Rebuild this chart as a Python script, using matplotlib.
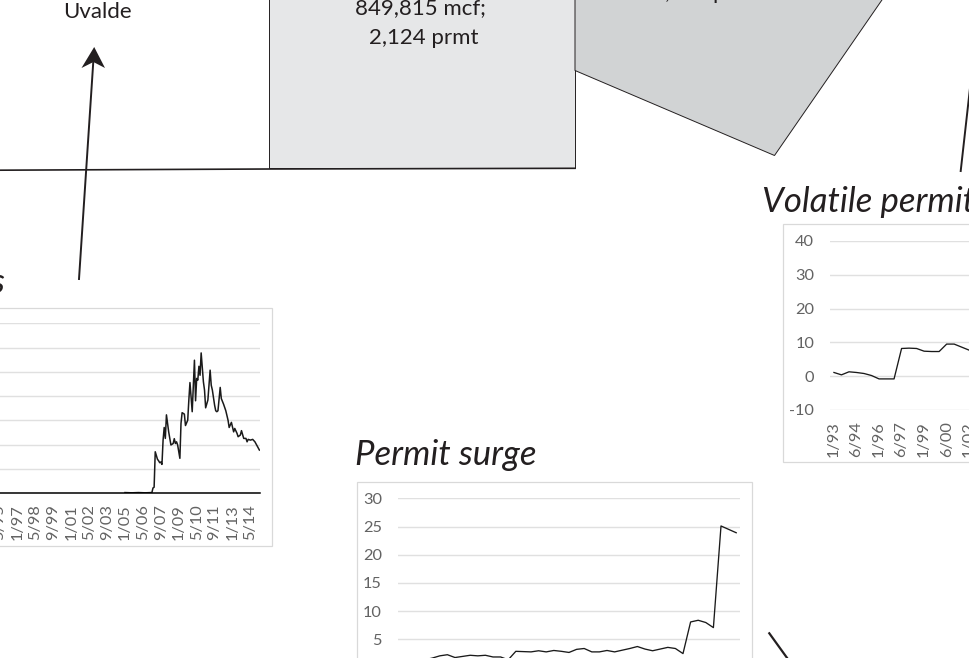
import matplotlib
matplotlib.use("Agg")
import matplotlib.pyplot as plt
from matplotlib.patches import Polygon, Rectangle

plt.rcParams["axes.unicode_minus"] = False

W, H = 969, 658

# ---- Left chart (monthly index, 0 = 1/05) ----
left_months = [0, 6, 12, 18, 24, 25, 26, 27, 29, 30, 31, 32, 33, 34, 35, 36, 37, 38, 39, 40, 41, 43, 44, 45, 46, 47,
               49, 50, 51, 53, 54, 56, 57, 58, 59, 60, 62, 63, 64, 65, 66, 67, 68, 70, 71, 72, 74, 76, 77, 78, 80, 81,
               82, 83, 85, 86, 88, 90, 92, 93, 95, 97, 98, 100, 101, 103, 104, 106, 108, 109, 110, 112, 114, 116, 118, 120]
left_values = [0.3, 0.2, 0.3, 0.2, 0.3, 2.2, 2.5, 17.1, 14.0, 13.4, 12.6, 12.9, 11.9, 21.9, 27.1, 22.6, 32.3, 28.8, 25.3,
               22.6, 19.9, 20.5, 22.5, 20.5, 21.2, 19.9, 14.4, 28.8, 33.2, 32.6, 27.9, 30.1, 38.4, 45.6, 39.7, 33.6, 54.8,
               38.1, 47.3, 46.6, 52.3, 48.6, 57.8, 45.9, 42.5, 35.2, 38.4, 50.7, 44.5, 42.5, 36.3, 34.0, 33.6, 34.0, 43.6,
               39.0, 36.7, 34.0, 30.1, 27.1, 29.2, 25.3, 26.7, 24.7, 23.3, 24.0, 25.8, 22.6, 22.6, 21.2, 22.2, 21.9, 22.2,
               21.2, 19.5, 17.8]
left_tick_months = [-112, -96, -80, -64, -48, -32, -16, 0, 16, 32, 48, 64, 80, 96, 112]
left_tick_labels = ["5/95", "1/97", "5/98", "9/99", "1/01", "5/02", "9/03", "1/05", "5/06", "9/07", "1/09", "5/10",
                    "9/11", "1/13", "5/14"]
left_grid = [0, 10, 20, 30, 40, 50, 60, 70]

# ---- Permit surge ----
surge_values = [1.0, 1.2, 1.3, 1.4, 1.7, 2.1, 2.3, 1.8, 2.0, 2.2, 2.1, 2.2, 1.9, 1.9, 1.4, 2.9, 2.85, 2.8, 3.0, 2.8,
                3.05, 2.9, 2.7, 3.25, 3.4, 2.8, 2.8, 3.05, 2.8, 3.1, 3.4, 3.75, 3.3, 3.0, 3.3, 3.6, 3.4, 2.5, 8.1, 8.4,
                8.0, 7.1, 25.1, 24.5, 23.9]
surge_ticks = [0, 5, 10, 15, 20, 25, 30]

# ---- Volatile permits ----
volatile_values = [1.1, 0.4, 1.3, 1.1, 0.8, 0.2, -0.8, -0.8, -0.8, 8.2, 8.3, 8.2, 7.4, 7.3, 7.3, 9.5, 9.5, 8.6, 7.7, 7.0]
volatile_tick_labels = ["1/93", "6/94", "1/96", "6/97", "1/99", "6/00", "1/02"]
volatile_ticks = [-10, 0, 10, 20, 30, 40]

INK = "#231f20"
GRID = "#e0e0e0"
TICK = "#636363"
TXT = "Lato"
TICK_SIZE = 11.8

fig = plt.figure(figsize=(W / 100, H / 100), dpi=100, facecolor="white")
bg = fig.add_axes([0, 0, 1, 1])
bg.set_xlim(0, W)
bg.set_ylim(H, 0)
bg.axis("off")


def px_axes(x0, y0, x1, y1):
    a = fig.add_axes([x0 / W, 1 - y1 / H, (x1 - x0) / W, (y1 - y0) / H])
    a.patch.set_alpha(0)
    for s in a.spines.values():
        s.set_visible(False)
    a.grid(True, axis="y", color=GRID, lw=1.0)
    a.set_axisbelow(True)
    a.tick_params(length=0, labelsize=TICK_SIZE, labelcolor=TICK)
    return a


def style_labels(a):
    for lab in a.get_xticklabels() + a.get_yticklabels():
        lab.set_fontfamily(TXT)


# Map shapes
bg.add_patch(Rectangle((269, -5), 306, 173, fc="#e6e7e8", ec=INK, lw=0.7))
bg.add_patch(Polygon([(575, 70.5), (774.5, 155.5), (884, -3), (575, -3)], closed=True, fc="#d1d3d4", ec=INK, lw=0.7,
                     zorder=1))
bg.plot([-2, 269, 575], [170.2, 169, 168.3], color=INK, lw=1.2, zorder=3)

# Arrows
bg.plot([79, 93.4], [279, 60], color=INK, lw=1.4)
bg.add_patch(Polygon([(94.2, 47), (105, 68), (93.4, 62), (81.5, 68)], closed=True, fc=INK, ec="none"))
bg.plot([960.7, 970], [171, 88], color=INK, lw=1.4)
bg.plot([769.3, 790], [633.3, 662], color=INK, lw=1.6)

# Map text
for s, x, y in [("Uvalde", 97, 18), ("849,815 mcf;", 420, 14), ("2,124 prmt", 424, 44), (",", 667, -1), ("p", 719, -1)]:
    bg.text(x, y, s, ha="center", va="baseline", fontsize=16, family=TXT, color=INK)

# Chart frames
bg.add_patch(Rectangle((-40, 307.5), 312, 238, fc="white", ec="#d9d9d9", lw=0.9))
bg.add_patch(Rectangle((356.7, 482.3), 395.3, 220, fc="white", ec="#d9d9d9", lw=0.9))
bg.add_patch(Rectangle((783.3, 224.3), 240, 238, fc="white", ec="#d9d9d9", lw=0.9))

# Titles
bg.text(4, 293, "s", ha="right", va="baseline", fontsize=25, style="italic", family=TXT, color=INK)
bg.text(355, 465, "Permit surge", ha="left", va="baseline", fontsize=25, style="italic", family=TXT, color=INK)
bg.text(762, 212, "Volatile permit", ha="left", va="baseline", fontsize=25, style="italic", family=TXT, color=INK)

# Left chart: 1.12 px per month, 1/05 at x=125
ax1 = px_axes(-40, 323.3, 260, 493.3)
ax1.plot(left_months, left_values, color="#1a1a1a", lw=1.1)
ax1.set_xlim((-40 - 125) / 1.12, (260 - 125) / 1.12)
ax1.set_ylim(0, 70)
ax1.set_yticks(left_grid)
ax1.set_yticklabels([])
ax1.set_xticks(left_tick_months)
ax1.set_xticklabels(left_tick_labels, rotation=90)
ax1.tick_params(axis="x", pad=8)
ax1.spines["bottom"].set_visible(True)
ax1.spines["bottom"].set_color("black")
ax1.spines["bottom"].set_linewidth(1.1)
style_labels(ax1)

# Permit surge chart
ax2 = px_axes(398, 498.3, 740, 667.7)
ax2.plot(range(len(surge_values)), surge_values, color="#1a1a1a", lw=0.95)
ax2.set_xlim(-0.5, len(surge_values) - 0.5)
ax2.set_ylim(0, 30)
ax2.set_yticks(surge_ticks)
ax2.set_xticks([])
ax2.tick_params(axis="y", pad=11.5)
style_labels(ax2)

# Volatile permits chart
ax3 = px_axes(830.2, 241, 1003, 410)
ax3.plot(range(len(volatile_values)), volatile_values, color="#1a1a1a", lw=0.95)
ax3.set_xlim(-0.5, 22.5)
ax3.set_ylim(-10, 40)
ax3.set_yticks(volatile_ticks)
ax3.set_xticks(range(0, 3 * len(volatile_tick_labels), 3))
ax3.set_xticklabels(volatile_tick_labels, rotation=90)
ax3.tick_params(axis="x", pad=8)
ax3.tick_params(axis="y", pad=11.5)
style_labels(ax3)

fig.savefig("out.png", dpi=100)
